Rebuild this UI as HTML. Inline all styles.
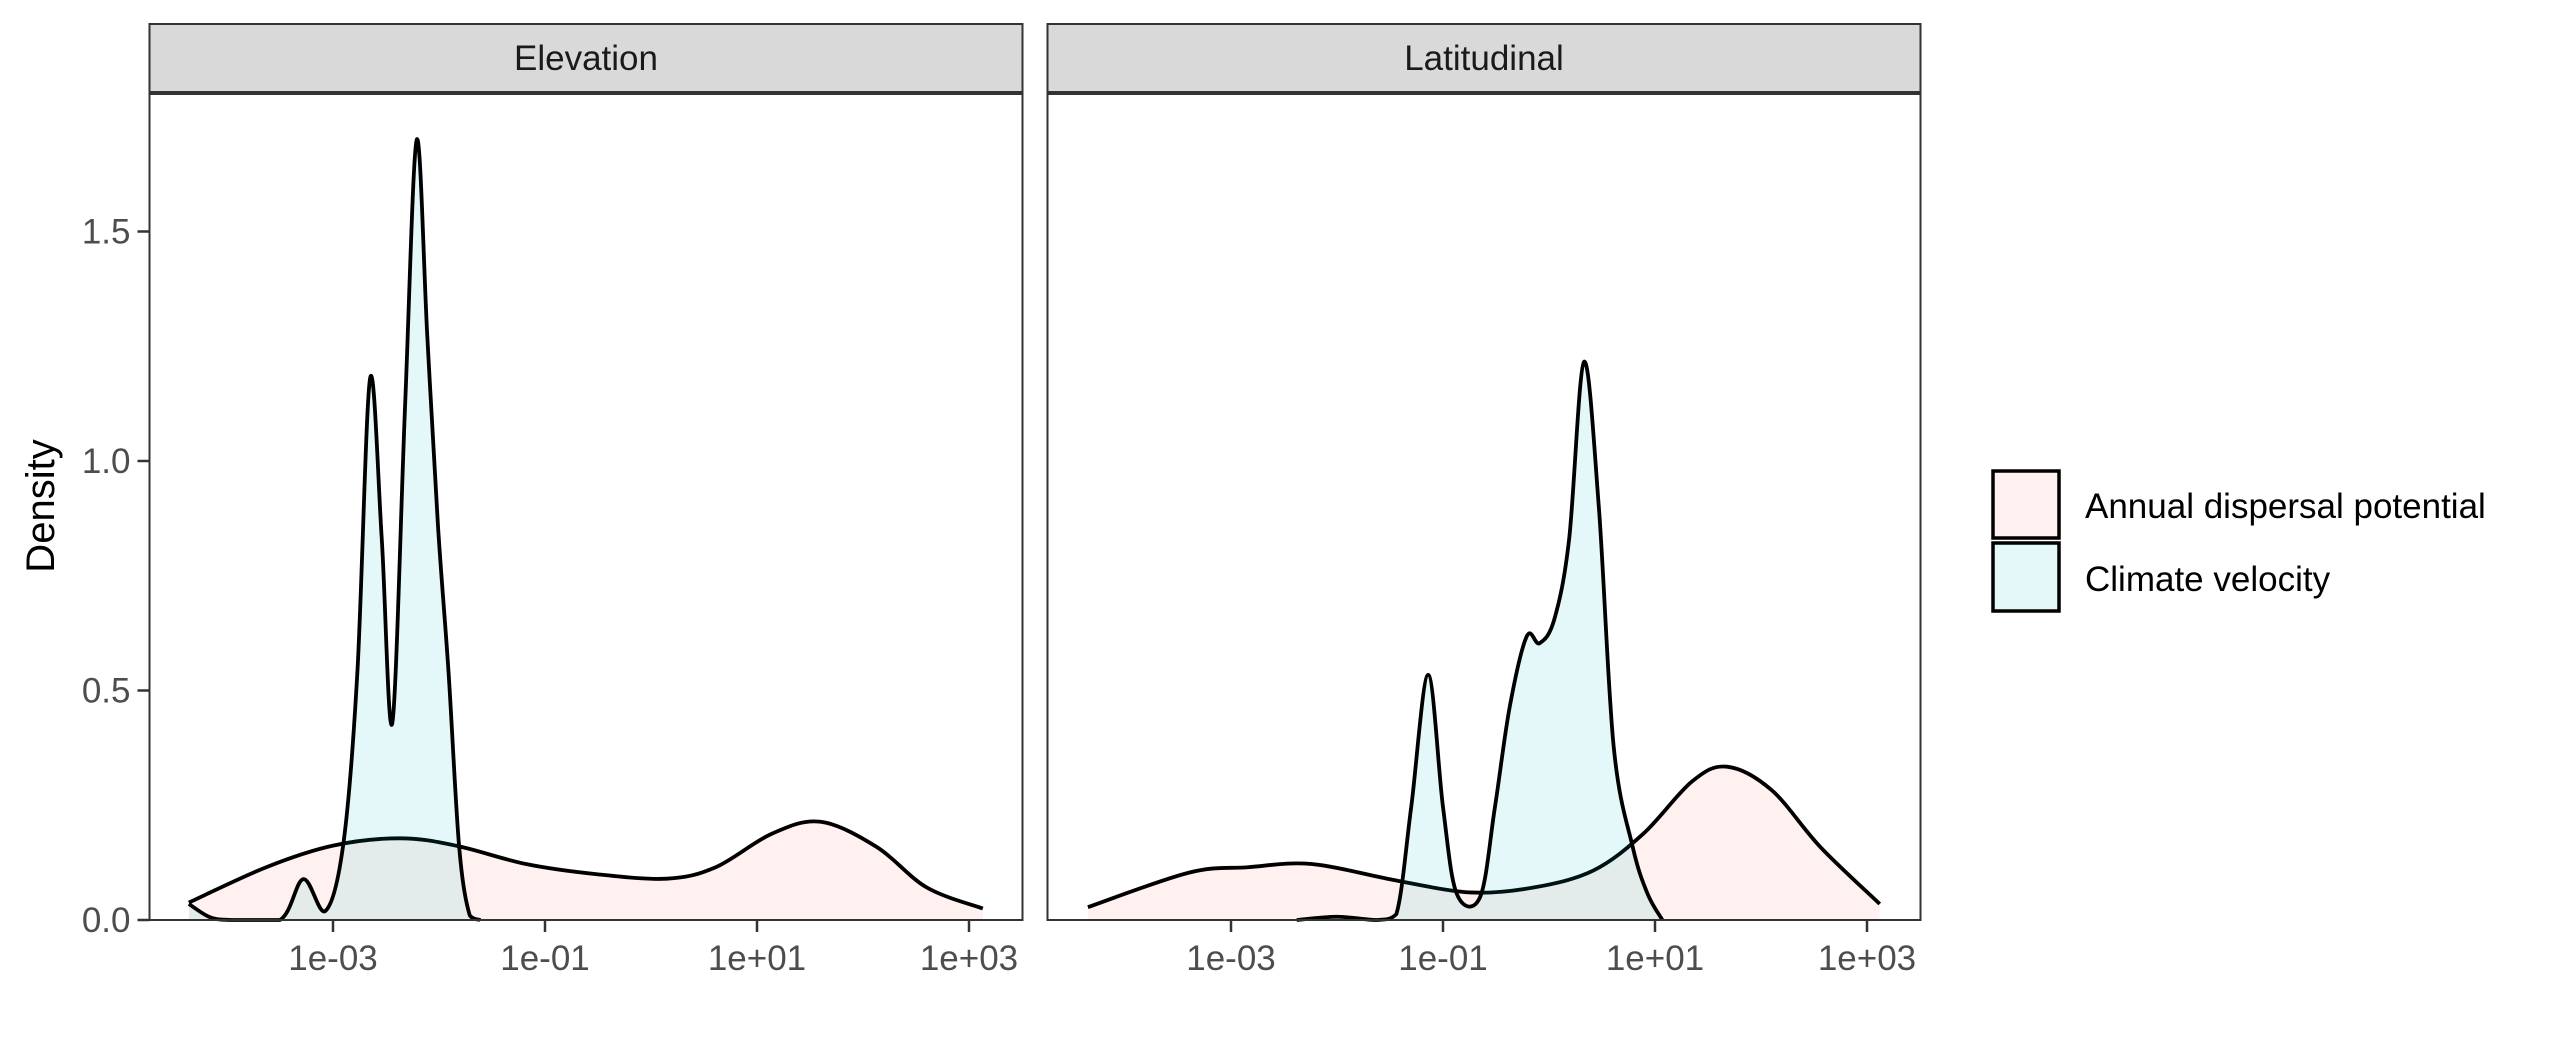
<!DOCTYPE html>
<html><head><meta charset="utf-8"><style>
html,body{margin:0;padding:0;background:#fff;}
svg{display:block;font-family:"Liberation Sans",Arial,sans-serif;}
</style></head><body>
<svg id="chart" width="2550" height="1050" viewBox="0 0 2550 1050" xmlns="http://www.w3.org/2000/svg">
<g id="panels"></g>
<text x="0" y="0" transform="translate(54,506) rotate(-90)" font-size="40" text-anchor="middle" fill="#000">Density</text>
<g>
  <rect x="1993" y="471" width="66" height="67" fill="#FEF1F0" stroke="#000" stroke-width="3.5"/>
  <rect x="1993" y="543" width="66" height="68" fill="#E5F8F9" stroke="#000" stroke-width="3.5"/>
  <text x="2085" y="518" font-size="35" fill="#000">Annual dispersal potential</text>
  <text x="2085" y="591" font-size="35" fill="#000">Climate velocity</text>
</g>
</svg>
<script>
const panelNames = ["Elevation", "Latitudinal"];
const xTickLogs = [-3, -1, 1, 3];
const xTickLabels = ["1e-03", "1e-01", "1e+01", "1e+03"];
const yTickValues = [0, 0.5, 1.0, 1.5];
const yTickLabels = ["0.0", "0.5", "1.0", "1.5"];
// log10(x) positions and densities
const elevDispLog = [-4.36,-3.63,-3,-2.37,-1.84,-1.18,-0.52,0.15,0.61,1.14,1.60,2.13,2.60,3.13];
const elevDispDen = [0.038,0.115,0.162,0.178,0.162,0.122,0.10,0.09,0.115,0.188,0.214,0.159,0.071,0.025];
const elevClimLog = [-4.36,-4.16,-3.96,-3.50,-3.28,-3.07,-2.90,-2.77,-2.65,-2.54,-2.44,-2.32,-2.21,-2.11,-2.01,-1.91,-1.81,-1.71,-1.61];
const elevClimDen = [0.035,0.006,0,0,0.089,0.02,0.17,0.54,1.18,0.83,0.43,1.12,1.70,1.27,0.86,0.54,0.16,0.01,0];
const latDispLog = [-4.35,-3.40,-2.84,-2.24,-1.44,-0.74,-0.14,0.42,0.89,1.35,1.68,2.10,2.56,3.12];
const latDispDen = [0.028,0.103,0.115,0.122,0.086,0.06,0.071,0.108,0.188,0.302,0.334,0.283,0.159,0.035];
const latClimLog = [-2.38,-2.0,-1.63,-1.44,-1.30,-1.14,-1.0,-0.87,-0.65,-0.51,-0.37,-0.21,-0.09,0.05,0.19,0.33,0.47,0.61,0.79,0.93,1.07];
const latClimDen = [0,0.007,0,0.013,0.246,0.534,0.246,0.057,0.05,0.246,0.465,0.618,0.603,0.655,0.83,1.216,0.90,0.378,0.159,0.057,0];

const NS = "http://www.w3.org/2000/svg";
const panelLefts = [149.5, 1047.5];
const panelW = 873, panelTop = 94, panelBottom = 920, stripTop = 24;
function mk(tag, attrs, parent){const e=document.createElementNS(NS,tag);for(const k in attrs)e.setAttribute(k,attrs[k]);parent.appendChild(e);return e;}
function xScale(left, lg){return left + 183.5 + (lg + 3) * 106;}
function yScale(d){return panelBottom - d * 459;}
function smoothPath(pts){
  let d = "M"+pts[0][0]+","+pts[0][1];
  for(let i=0;i<pts.length-1;i++){
    const p0=pts[Math.max(0,i-1)],p1=pts[i],p2=pts[i+1],p3=pts[Math.min(pts.length-1,i+2)];
    const c1x=p1[0]+(p2[0]-p0[0])/6,c1y=p1[1]+(p2[1]-p0[1])/6;
    const c2x=p2[0]-(p3[0]-p1[0])/6,c2y=p2[1]-(p3[1]-p1[1])/6;
    d+=" C"+c1x+","+Math.min(panelBottom,c1y)+" "+c2x+","+Math.min(panelBottom,c2y)+" "+p2[0]+","+p2[1];
  }
  return d;
}
const root = document.getElementById("panels");
const series = [[[elevDispLog,elevDispDen],[elevClimLog,elevClimDen]],[[latDispLog,latDispDen],[latClimLog,latClimDen]]];
const fills = ["#F8766D","#00BFC4"];
const sNames = ["dispersal","climate"];
panelNames.forEach((name,pi)=>{
  const L = panelLefts[pi];
  const g = mk("g",{},root);
  
  
  const strip = mk("rect",{x:L,y:stripTop,width:panelW,height:92-stripTop,fill:"#D9D9D9",stroke:"#333",'stroke-width':2},g);
  
  
  const st = mk("text",{x:L+panelW/2,y:70,'font-size':35,'text-anchor':'middle',fill:'#1a1a1a'},g);
  st.textContent = name;
  
  
  const bg = mk("rect",{x:L,y:panelTop,width:panelW,height:panelBottom-panelTop,fill:"#fff"},g);
  
  
  series[pi].forEach((s,si)=>{
    const pts = s[0].map((lg,i)=>[xScale(L,lg), yScale(s[1][i])]);
    const line = smoothPath(pts);
    const area = mk("path",{d:line+" L"+pts[pts.length-1][0]+","+panelBottom+" L"+pts[0][0]+","+panelBottom+" Z",fill:fills[si],'fill-opacity':0.1,stroke:'none'},g);
    
    
    const ln = mk("path",{d:line,fill:'none',stroke:'#000','stroke-width':3.8,'stroke-linejoin':'round'},g);
    
    
  });
  const border = mk("rect",{x:L,y:panelTop,width:panelW,height:panelBottom-panelTop,fill:"none",stroke:"#333",'stroke-width':2},g);
  
  
  xTickLogs.forEach((lg,i)=>{
    const x = xScale(L,lg);
    const t = mk("line",{x1:x,x2:x,y1:panelBottom,y2:panelBottom+12,stroke:'#333','stroke-width':2.5},g);
    
    
    const tl = mk("text",{x:x,y:970,'font-size':35,'text-anchor':'middle',fill:'#4d4d4d'},g);
    tl.textContent = xTickLabels[i];
    
    
  });
  if(pi===0){
    yTickValues.forEach((v,i)=>{
      const y = yScale(v);
      const t = mk("line",{x1:L-12,x2:L,y1:y,y2:y,stroke:'#333','stroke-width':2.5},g);
      
      
      const tl = mk("text",{x:L-19,y:y+12,'font-size':35,'text-anchor':'end',fill:'#4d4d4d'},g);
      tl.textContent = yTickLabels[i];
      
      
    });
  }
});
</script>
</body></html>
